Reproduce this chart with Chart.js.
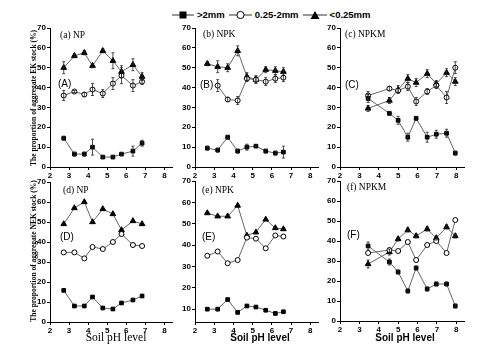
<!DOCTYPE html>
<html>
<head>
<meta charset="utf-8">
<script src="https://cdn.jsdelivr.net/npm/chart.js@4.4.1/dist/chart.umd.min.js"></script>
<style>
  html, body { margin: 0; padding: 0; background: #fff; }
  body { width: 495px; height: 353px; position: relative; overflow: hidden; }
  canvas { position: absolute; }
  .lbl { position: absolute; white-space: nowrap; color: #000; }
  .serif { font-family: "Liberation Serif", "DejaVu Serif", serif; }
  .sans { font-family: "Liberation Sans", Arial, sans-serif; }
  .ytitle { position: absolute; white-space: nowrap; font-family: "Liberation Serif", serif; font-weight: bold;
            font-size: 7.5px; transform: translate(-50%, -50%) rotate(-90deg); }
  #legend { position: absolute; left: 172px; top: 9px; display: flex; align-items: center;
            font-family: "Liberation Sans", Arial, sans-serif; font-weight: bold; font-size: 9.5px; }
  #legend svg { display: block; }
  #legend span { margin: 0 4px 0 3px; }
</style>
</head>
<body>

<div id="legend">
  <svg width="22" height="10"><line x1="0" y1="5" x2="22" y2="5" stroke="#333"/><rect x="7.5" y="1.5" width="7" height="7" fill="#000"/></svg><span>&gt;2mm</span>
  <svg width="23" height="10"><line x1="0" y1="5" x2="23" y2="5" stroke="#333"/><circle cx="11.5" cy="5" r="3.6" fill="#fff" stroke="#000"/></svg><span>0.25-2mm</span>
  <svg width="24" height="10"><line x1="0" y1="5" x2="24" y2="5" stroke="#333"/><polygon points="12,1 16.5,9 7.5,9" fill="#000"/></svg><span>&lt;0.25mm</span>
</div>

<script>
// soil pH of the sampled plots (x positions)
const phNP = [2.72, 3.28, 3.8, 4.23, 4.77, 5.3, 5.75, 6.35, 6.83];
const phNPK = [2.64, 3.18, 3.7, 4.22, 4.7, 5.17, 5.68, 6.18, 6.6];
const phNPKM = [3.45, 4.55, 5.0, 5.5, 5.93, 6.5, 6.97, 7.5, 7.95];

// EK stock (%) - top row
const ekNP_big = [14.5, 6.5, 6.5, 10, 5, 5, 6.5, 8, 12];
const ekNP_mid = [36, 38, 36.5, 39, 37, 42, 46, 41, 43];
const ekNP_small = [50, 56, 57.5, 51, 58.5, 53.5, 48, 51.5, 45.5];
const ekNP_bigErr = [1, 1, 1, 4, 0.5, 0.5, 0.8, 2.5, 1.5];
const ekNP_midErr = [2.5, 0.5, 1, 3, 2, 3, 4, 3, 1.5];
const ekNP_smallErr = [3, 1, 1, 1, 1, 4, 3, 3, 2];

const ekNPK_big = [9.5, 8.5, 15, 8, 10, 10.5, 8, 7, 7.5];
const ekNPK_mid = [null, 41, 34, 33.5, 44.5, 44, 43, 44.5, 45];
const ekNPK_small = [52, 50.5, 50, 58.5, 45.5, 44, 49, 48.5, 48];
const ekNPK_bigErr = [1, 1, 1, 1, 1.5, 0.5, 1, 1, 3];
const ekNPK_midErr = [null, 3, 1, 2, 1.5, 1.5, 2, 2, 2];
const ekNPK_smallErr = [1, 3, 2, 2.5, 2, 2, 1.5, 2, 2];

const ekNPKM_big = [34.5, 27, 23.5, 15, 24.5, 15, 16.5, 17, 7];
const ekNPKM_mid = [36, 39.5, 38.5, 40.5, 33, 38, 41, 35, 50];
const ekNPKM_small = [29.5, 33.5, 39, 44.5, 42.5, 47, 42, 47.5, 43];
const ekNPKM_bigErr = [2, 1, 2, 2, 1, 2.5, 2, 2, 1];
const ekNPKM_midErr = [2, 1, 1, 2, 2, 1.5, 1.5, 3, 3];
const ekNPKM_smallErr = [1.5, 1.5, 2, 2, 2, 2, 1.5, 2, 2];

// NEK stock (%) - bottom row
const nekNP_big = [15.8, 8, 8, 12.5, 7, 6.5, 9.5, 11, 13];
const nekNP_mid = [34.8, 34.8, 31.8, 37.5, 36.5, 40, 44, 38.5, 38];
const nekNP_small = [49, 57, 60, 50, 56.5, 54, 46, 50.5, 49];

const nekNPK_big = [10, 10, 14.5, 8.5, 11.5, 11, 9.5, 8, 8.8];
const nekNPK_mid = [35, 37, 31.5, 33, 43.5, 43, 38.5, 44.5, 44];
const nekNPK_small = [55, 53.5, 53.5, 58.5, 44.5, 46, 52, 48, 47.5];

const nekNPKM_big = [37.5, 29.5, 24.5, 15, 26.5, 16, 18.5, 18.5, 7.5];
const nekNPKM_mid = [34, 35.5, 35, 39.5, 30.5, 38, 40, 34, 50.5];
const nekNPKM_small = [28.5, 34.5, 41, 45.5, 42.5, 46, 41.5, 47, 42.5];
const nekNPKM_bigErr = [2, 1.5, 1, 1, 1, 1, 1, 1, 1];
const nekNPKM_smallErr = [2, 1.5, 1, 1, 1, 1, 1, 1, 1];

const yTicks = [0, 10, 20, 30, 40, 50, 60, 70];
const xTicks = [2, 3, 4, 5, 6, 7, 8];

const errorBars = {
    id: 'errorBars',
    afterDatasetsDraw(chart) {
        const ctx = chart.ctx, ys = chart.scales.y;
        chart.data.datasets.forEach((ds, di) => {
            if (!ds.errors) return;
            const meta = chart.getDatasetMeta(di);
            ctx.save();
            ctx.strokeStyle = '#222';
            ctx.lineWidth = 0.8;
            ds.data.forEach((p, i) => {
                const e = ds.errors[i];
                if (e == null || p.y == null) return;
                const px = meta.data[i].x;
                const y1 = ys.getPixelForValue(p.y + e), y2 = ys.getPixelForValue(p.y - e);
                ctx.beginPath();
                ctx.moveTo(px, y1); ctx.lineTo(px, y2);
                ctx.moveTo(px - 1.5, y1); ctx.lineTo(px + 1.5, y1);
                ctx.moveTo(px - 1.5, y2); ctx.lineTo(px + 1.5, y2);
                ctx.stroke();
            });
            ctx.restore();
        });
    }
};

function series(xs, ys, style, errs) {
    const fill = style === 'circle' ? '#fff' : '#000';
    return {
        data: xs.map((x, i) => ({ x: x, y: ys[i] })),
        errors: errs,
        showLine: true,
        borderColor: '#666',
        borderWidth: 1,
        pointStyle: style,
        pointRadius: style === 'triangle' ? 3.3 : (style === 'rect' ? 2.6 : 2.5),
        pointBackgroundColor: fill,
        pointBorderColor: '#000',
        pointBorderWidth: 1,
        clip: false
    };
}

function createPanel(box, yMin, datasets) {
    const padL = 32, padT = 6, padB = 16, padR = 2;
    const cv = document.createElement('canvas');
    const w = box.r - box.l + padL + padR, h = box.b - box.t + padT + padB;
    cv.width = w; cv.height = h;
    cv.style.left = (box.l - padL) + 'px';
    cv.style.top = (box.t - padT) + 'px';
    document.body.appendChild(cv);
    const tickFont = { family: '"Liberation Sans", Arial, sans-serif', size: 8, weight: 'bold' };
    new Chart(cv, {
        type: 'scatter',
        data: { datasets: datasets },
        options: {
            responsive: false,
            animation: false,
            devicePixelRatio: 1,
            layout: { padding: { left: 0, top: padT, right: padR, bottom: 0 } },
            plugins: { legend: { display: false }, tooltip: { enabled: false } },
            scales: {
                x: {
                    type: 'linear', min: 2, max: 8.4,
                    afterBuildTicks: s => { s.ticks = xTicks.map(v => ({ value: v })); },
                    afterFit: s => { s.height = padB; },
                    grid: { drawOnChartArea: false, color: '#000', tickLength: 3 },
                    border: { color: '#000', width: 1 },
                    ticks: { color: '#000', font: tickFont, padding: 1, maxRotation: 0 }
                },
                y: {
                    type: 'linear', min: yMin, max: 70,
                    afterBuildTicks: s => { s.ticks = yTicks.filter(v => v >= yMin).map(v => ({ value: v })); },
                    afterFit: s => { s.width = padL; },
                    grid: { drawOnChartArea: false, color: '#000', tickLength: 3 },
                    border: { color: '#000', width: 1 },
                    ticks: { color: '#000', font: tickFont, padding: 1 }
                }
            }
        },
        plugins: [errorBars]
    });
}

createPanel({ l: 50, r: 175, t: 28, b: 167 }, 0, [
    series(phNP, ekNP_big, 'rect', ekNP_bigErr),
    series(phNP, ekNP_mid, 'circle', ekNP_midErr),
    series(phNP, ekNP_small, 'triangle', ekNP_smallErr)
]);
createPanel({ l: 195, r: 321, t: 28, b: 167 }, 0, [
    series(phNPK, ekNPK_big, 'rect', ekNPK_bigErr),
    series(phNPK, ekNPK_mid, 'circle', ekNPK_midErr),
    series(phNPK, ekNPK_small, 'triangle', ekNPK_smallErr)
]);
createPanel({ l: 340, r: 467, t: 28, b: 167 }, 0, [
    series(phNPKM, ekNPKM_big, 'rect', ekNPKM_bigErr),
    series(phNPKM, ekNPKM_mid, 'circle', ekNPKM_midErr),
    series(phNPKM, ekNPKM_small, 'triangle', ekNPKM_smallErr)
]);
createPanel({ l: 50, r: 175, t: 182, b: 322 }, 0, [
    series(phNP, nekNP_big, 'rect'),
    series(phNP, nekNP_mid, 'circle'),
    series(phNP, nekNP_small, 'triangle')
]);
createPanel({ l: 195, r: 321, t: 181, b: 322 }, 4, [
    series(phNPK, nekNPK_big, 'rect'),
    series(phNPK, nekNPK_mid, 'circle'),
    series(phNPK, nekNPK_small, 'triangle')
]);
createPanel({ l: 340, r: 467, t: 181, b: 321 }, 0, [
    series(phNPKM, nekNPKM_big, 'rect', nekNPKM_bigErr),
    series(phNPKM, nekNPKM_mid, 'circle'),
    series(phNPKM, nekNPKM_small, 'triangle', nekNPKM_smallErr)
]);
</script>

<div class="ytitle" style="left:33px; top:98px;">The proportion of aggregate EK stock (%)</div>
<div class="ytitle" style="left:33px; top:251px;">The proportion of aggregate NEK stock (%)</div>

<div class="lbl serif" style="left:60px; top:30px; font-size:9.5px;">(a) NP</div>
<div class="lbl serif" style="left:203px; top:29px; font-size:9.5px;">(b) NPK</div>
<div class="lbl serif" style="left:345px; top:29px; font-size:9.5px;">(c) NPKM</div>
<div class="lbl serif" style="left:63px; top:185px; font-size:9.5px;">(d) NP</div>
<div class="lbl serif" style="left:202px; top:185px; font-size:9.5px;">(e) NPK</div>
<div class="lbl serif" style="left:347px; top:182px; font-size:9.5px;">(f) NPKM</div>

<div class="lbl sans" style="left:58px; top:78px; font-size:10px;">(A)</div>
<div class="lbl sans" style="left:200px; top:79px; font-size:10px;">(B)</div>
<div class="lbl sans" style="left:345px; top:79px; font-size:10px;">(C)</div>
<div class="lbl sans" style="left:60px; top:231px; font-size:10px;">(D)</div>
<div class="lbl sans" style="left:202px; top:231px; font-size:10px;">(E)</div>
<div class="lbl sans" style="left:347px; top:229px; font-size:10px;">(F)</div>

<div class="lbl serif" style="left:116px; top:337px; font-size:11.5px; transform:translate(-50%,-50%);">Soil pH level</div>
<div class="lbl sans" style="left:260px; top:337px; font-size:10px; font-weight:bold; transform:translate(-50%,-50%);">Soil pH level</div>
<div class="lbl sans" style="left:405px; top:337px; font-size:10px; font-weight:bold; transform:translate(-50%,-50%);">Soil pH level</div>
</body>
</html>
